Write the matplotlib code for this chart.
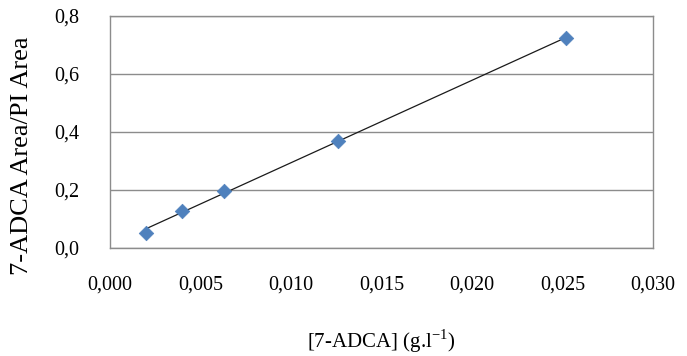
import numpy as np
import matplotlib
matplotlib.use("Agg")
import matplotlib.pyplot as plt

# Calibration data: 7-ADCA concentration vs. peak-area ratio
concentration = [0.0020, 0.0040, 0.0063, 0.0126, 0.0252]
area_ratio = [0.053, 0.129, 0.198, 0.370, 0.723]

x_ticks = [0.000, 0.005, 0.010, 0.015, 0.020, 0.025, 0.030]
x_tick_labels = ["0,000", "0,005", "0,010", "0,015", "0,020", "0,025", "0,030"]
y_ticks = [0.0, 0.2, 0.4, 0.6, 0.8]
y_tick_labels = ["0,0", "0,2", "0,4", "0,6", "0,8"]

plt.rcParams["font.family"] = ["Liberation Serif", "DejaVu Serif"]

fig = plt.figure(figsize=(6.87, 3.56), dpi=100)
ax = fig.add_axes([110 / 687, 1 - 248 / 356, (653 - 110) / 687, (248 - 16) / 356])

# Linear trendline through the calibration points
slope, intercept = np.polyfit(concentration, area_ratio, 1)
xs = np.array([min(concentration), max(concentration)])
ax.plot(xs, slope * xs + intercept, color="#1a1a1a", lw=0.9, zorder=2)

ax.scatter(concentration, area_ratio, marker="D", s=55, color="#4F81BD",
           edgecolors="#4F81BD", linewidths=0.5, zorder=3)

ax.set_xlim(0, 0.030)
ax.set_ylim(0, 0.8)
ax.set_xticks(x_ticks)
ax.set_xticklabels(x_tick_labels)
ax.set_yticks(y_ticks)
ax.set_yticklabels(y_tick_labels)
ax.tick_params(axis="both", length=0, labelsize=14.5)
ax.tick_params(axis="x", pad=20)
ax.tick_params(axis="y", pad=22)

ax.grid(axis="y", color="#8c8c8c", lw=1.0)
ax.set_axisbelow(True)
for sp in ax.spines.values():
    sp.set_color("#8c8c8c")
    sp.set_linewidth(1.0)

ax.set_xlabel("[7-ADCA] (g.l$^{\\mathregular{-1}}$)", fontsize=15)
ax.xaxis.set_label_coords(0.5, (248 - 327) / 232, transform=ax.transAxes)
ax.set_ylabel("7-ADCA Area/PI Area", fontsize=19)
ax.yaxis.set_label_coords((33 - 110) / 543, (248 - 156) / 232, transform=ax.transAxes)

fig.savefig("out.png", dpi=100)
